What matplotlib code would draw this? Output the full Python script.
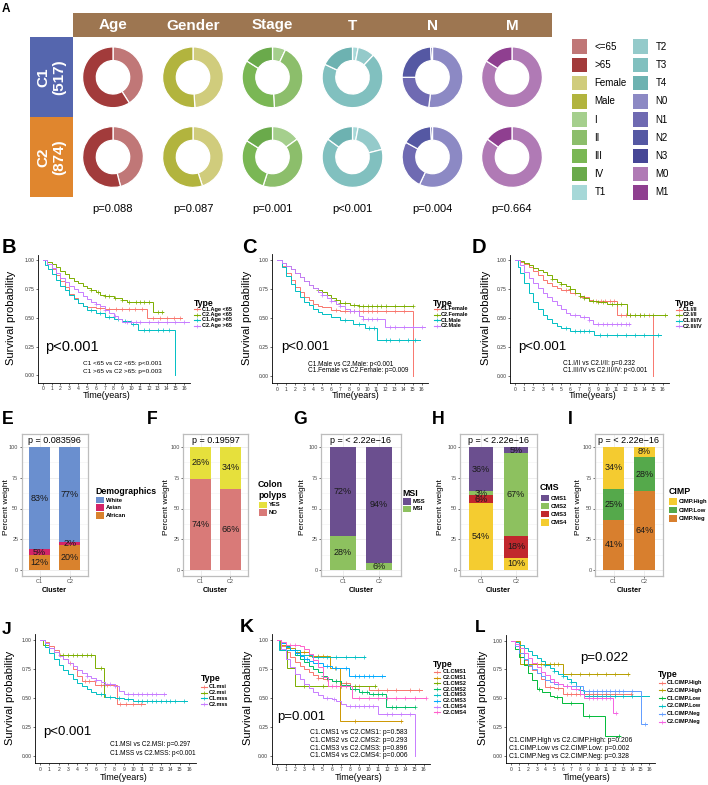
import bisect
import matplotlib
matplotlib.use('Agg')
import matplotlib.pyplot as plt
from matplotlib.patches import Rectangle

plt.rcParams['font.family'] = ['Liberation Sans', 'DejaVu Sans']

W, H = 708, 785

# ---------------- Panel A data ----------------
A_vars = ['Age', 'Gender', 'Stage', 'T', 'N', 'M']
A_pvals = ['p=0.088', 'p=0.087', 'p=0.001', 'p<0.001', 'p=0.004', 'p=0.664']
A_clusters = ['C1\n(517)', 'C2\n(874)']
age_C1 = [41, 59]
age_C2 = [46, 54]
gender_C1 = [49, 51]
gender_C2 = [45, 55]
stage_C1 = [7, 42, 35, 16]
stage_C2 = [15, 40, 29, 16]
T_C1 = [3, 9, 70, 18]
T_C2 = [3, 18, 64, 15]
N_C1 = [52, 23, 24, 1]
N_C2 = [57, 26, 16, 1]
M_C1 = [84, 16]
M_C2 = [85, 15]
age_labels = ['<=65', '>65']
gender_labels = ['Female', 'Male']
stage_labels = ['I', 'II', 'III', 'IV']
T_labels = ['T1', 'T2', 'T3', 'T4']
N_labels = ['N0', 'N1', 'N2', 'N3']
M_labels = ['M0', 'M1']
age_colors = ['#C07777', '#A23B3B']
gender_colors = ['#D0CC7C', '#B2B43E']
stage_colors = ['#A5CF8D', '#8CBE6B', '#7AB754', '#6AAA4B']
T_colors = ['#A6D8D8', '#94CACA', '#81C0BF', '#6DB2B1']
N_colors = ['#8C89C4', '#6F6AB2', '#5558A3', '#464696']
M_colors = ['#B07AB5', '#8F3F90']

# ---------------- KM data (time, survival after step, end, censor times) ----------------
col4 = ['#F8766D', '#7CAE00', '#00BFC4', '#C77CFF']
col8 = ['#F8766D', '#CD9600', '#7CAE00', '#00BE67', '#00BFC4', '#00A9FF', '#C77CFF', '#FF61CC']
col6 = ['#F8766D', '#B79F00', '#00BA38', '#00BFC4', '#619CFF', '#F564E3']

B_labels = ['C1.Age <65', 'C2.Age <65', 'C1.Age >65', 'C2.Age >65']
B_t = [[0, 0.5, 1, 1.5, 2, 2.5, 3, 3.5, 4, 4.5, 5, 6, 7, 11.8],
       [0, 0.5, 1, 1.5, 2, 2.5, 3, 3.5, 4, 4.5, 5, 5.5, 6, 6.5, 7, 8, 9, 9.5, 12.5],
       [0, 0.3, 0.6, 1, 1.5, 2, 2.5, 3, 3.5, 4, 4.5, 5, 6, 7, 8, 9, 10, 10.8, 15],
       [0, 0.5, 1, 1.5, 2, 2.5, 3, 3.5, 4, 4.5, 5, 5.5, 6, 6.5, 7, 7.5, 8, 8.5, 9]]
B_s = [[1, 0.97, 0.92, 0.87, 0.82, 0.77, 0.71, 0.67, 0.63, 0.605, 0.595, 0.585, 0.58, 0.50],
       [1, 0.985, 0.965, 0.94, 0.91, 0.88, 0.85, 0.82, 0.80, 0.78, 0.76, 0.74, 0.72, 0.70, 0.69, 0.67, 0.655, 0.64, 0.55],
       [1, 0.96, 0.92, 0.88, 0.83, 0.78, 0.74, 0.70, 0.66, 0.63, 0.60, 0.57, 0.54, 0.51, 0.49, 0.47, 0.45, 0.39, 0.0],
       [1, 0.97, 0.93, 0.89, 0.85, 0.81, 0.78, 0.75, 0.72, 0.69, 0.66, 0.64, 0.62, 0.60, 0.57, 0.54, 0.52, 0.49, 0.46]]
B_end = [15.7, 13.6, 15, 16.5]
B_cens = [[6.5, 7.5, 8.3, 9, 9.7, 10.4, 11.2, 12.5, 13.2, 14, 14.8, 15.5],
          [5.5, 6.2, 7, 7.5, 8.2, 9, 9.8, 10.5, 11, 11.5, 12, 13, 13.5],
          [5.5, 6.5, 7.5, 8.5, 9.3, 10.2, 11.5, 12, 13, 13.6, 14.3],
          [6, 7, 8.2, 9.5, 10, 10.5, 11, 12, 13, 14, 15, 16]]
B_comps = ['C1 <65 vs C2 <65: p<0.001', 'C1 >65 vs C2 >65: p=0.003']

C_labels = ['C1.Female', 'C2.Female', 'C1.Male', 'C2.Male']
C_t = [[0, 0.5, 1, 1.5, 2, 2.5, 3, 3.5, 4, 4.5, 5, 6, 7, 15],
       [0, 0.5, 1, 1.5, 2, 2.5, 3, 3.5, 4, 4.5, 5, 5.5, 6, 6.5, 7, 8, 9],
       [0, 0.5, 1, 1.5, 2, 2.5, 3, 3.5, 4, 4.5, 5, 6, 7, 8.4, 9.7, 11],
       [0, 0.5, 1, 1.5, 2, 2.5, 3, 3.5, 4, 4.5, 5, 5.5, 6, 6.5, 7, 7.5, 8, 9, 9.5, 11.9]]
C_s = [[1, 0.95, 0.89, 0.83, 0.77, 0.72, 0.68, 0.65, 0.62, 0.60, 0.59, 0.57, 0.56, 0.0],
       [1, 0.975, 0.95, 0.92, 0.885, 0.85, 0.815, 0.785, 0.76, 0.74, 0.72, 0.70, 0.675, 0.65, 0.63, 0.61, 0.60],
       [1, 0.94, 0.86, 0.79, 0.73, 0.68, 0.64, 0.61, 0.58, 0.55, 0.53, 0.51, 0.48, 0.45, 0.41, 0.31],
       [1, 0.975, 0.95, 0.92, 0.885, 0.85, 0.815, 0.785, 0.755, 0.725, 0.70, 0.67, 0.645, 0.62, 0.60, 0.575, 0.555, 0.52, 0.49, 0.42]]
C_end = [15, 15, 15.8, 16.4]
C_cens = [[6.5, 7.5, 8, 8.5, 9, 9.5, 10, 10.5, 11, 12, 13, 14],
          [4.5, 5, 6, 6.5, 7, 7.5, 8.5, 9, 9.5, 10, 10.5, 11, 11.5, 12, 13, 14, 15],
          [7.5, 9, 10.2, 10.7, 12, 12.5, 13.5, 14.5, 15.3],
          [5, 6, 7, 8, 8.5, 9.5, 10, 10.5, 11, 12.5, 13, 14, 15, 16]]
C_comps = ['C1.Male vs C2.Male: p<0.001', 'C1.Female vs C2.Female: p=0.009']

D_labels = ['C1.I/II', 'C2.I/II', 'C1.III/IV', 'C2.III/IV']
D_t = [[0, 0.5, 1, 1.5, 2, 2.5, 3, 3.5, 4, 4.5, 5, 6, 7, 8, 8.5, 11, 15],
       [0, 0.5, 1, 1.5, 2, 2.5, 3, 3.5, 4, 4.5, 5, 5.5, 6, 6.5, 7, 7.5, 8, 9, 10, 12.1],
       [0, 0.3, 0.5, 1, 1.5, 2, 2.5, 3, 3.5, 4, 4.5, 5, 6, 8.6],
       [0, 0.5, 1, 1.5, 2, 2.5, 3, 3.5, 4, 4.5, 5, 5.5, 6, 7, 8, 8.5]]
D_s = [[1, 0.985, 0.965, 0.94, 0.91, 0.87, 0.83, 0.80, 0.78, 0.76, 0.74, 0.72, 0.68, 0.66, 0.65, 0.53, 0.0],
       [1, 0.99, 0.975, 0.955, 0.935, 0.915, 0.895, 0.87, 0.84, 0.815, 0.795, 0.775, 0.75, 0.72, 0.69, 0.67, 0.65, 0.635, 0.625, 0.53],
       [1, 0.94, 0.89, 0.80, 0.72, 0.64, 0.58, 0.53, 0.49, 0.46, 0.43, 0.41, 0.39, 0.35],
       [1, 0.955, 0.90, 0.85, 0.80, 0.76, 0.72, 0.68, 0.645, 0.61, 0.575, 0.545, 0.525, 0.505, 0.485, 0.45]]
D_end = [15, 16.5, 15.8, 12.5]
D_cens = [[5.5, 6.5, 7.5, 8.8, 9.3, 9.8, 10.3, 10.7, 11.5, 12, 12.5, 13.5, 14.5],
          [4, 5, 6, 7, 7.5, 8.5, 9, 9.5, 10.5, 11, 11.5, 12.5, 13, 13.5, 14, 15, 16.2],
          [5.5, 6.5, 7, 7.5, 8, 9.2, 10, 11, 12, 13, 14, 15.5],
          [6.5, 7.5, 8, 9, 9.5, 10, 10.5, 11, 11.5, 12, 12.4]]
D_comps = ['C1.I/II vs C2.I/II: p=0.232', 'C1.III/IV vs C2.III/IV: p<0.001']

J_labels = ['C1.msi', 'C2.msi', 'C1.mss', 'C2.mss']
J_t = [[0, 0.5, 1, 1.5, 2, 2.5, 3, 3.5, 4, 4.5, 5.9, 8.3],
       [0, 0.3, 1, 1.5, 2, 5.9, 6.9],
       [0, 0.5, 1, 1.5, 2, 2.5, 3, 3.5, 4, 4.5, 5, 5.5, 6, 7, 8, 9, 10],
       [0, 0.5, 1, 1.5, 2, 2.5, 3, 3.5, 4, 4.5, 5, 5.5, 6, 6.5, 7, 8, 8.5, 9]]
J_s = [[1, 0.98, 0.95, 0.91, 0.87, 0.84, 0.80, 0.75, 0.69, 0.645, 0.61, 0.45],
       [1, 0.96, 0.93, 0.90, 0.87, 0.76, 0.51],
       [1, 0.94, 0.885, 0.835, 0.785, 0.745, 0.705, 0.665, 0.63, 0.60, 0.575, 0.55, 0.53, 0.51, 0.50, 0.49, 0.47],
       [1, 0.97, 0.935, 0.90, 0.865, 0.835, 0.805, 0.775, 0.745, 0.715, 0.69, 0.67, 0.65, 0.635, 0.62, 0.60, 0.56, 0.53]]
J_end = [11.3, 7.0, 15.8, 13.5]
J_cens = [[2.2, 3.2, 4.8, 5.3, 6.5, 7.2, 8.6, 9.2, 10, 10.8],
          [2.5, 3, 3.5, 4, 4.5, 5, 5.5, 6.5],
          [6.5, 7.5, 8.5, 9.5, 10.5, 11, 11.5, 12, 12.5, 13, 13.5, 14, 14.5, 15.5],
          [5, 6, 7, 7.5, 8, 9.5, 10, 10.5, 11, 11.5, 12, 12.5, 13.3]]
J_comps = ['C1.MSI vs C2.MSI: p=0.297', 'C1.MSS vs C2.MSS: p<0.001']

K_labels = ['C1.CMS1', 'C2.CMS1', 'C1.CMS2', 'C2.CMS2', 'C1.CMS3', 'C2.CMS3', 'C1.CMS4', 'C2.CMS4']
K_t = [[0, 0.5, 1, 1.5, 2, 2.5, 3, 3.5, 4, 4.5, 5, 6, 7, 8, 10],
       [0, 0.5, 1, 2, 3.5, 5.8, 6.9],
       [0, 0.4, 1.1, 2],
       [0, 0.5, 1, 1.5, 2, 2.5, 3, 3.5, 4, 4.5, 5, 5.5, 6, 7, 8, 9, 10, 11.9],
       [0, 0.2, 2.5, 3.8],
       [0, 0.5, 1, 1.5, 2, 2.5, 3, 3.5, 4, 5, 6, 7.9],
       [0, 0.5, 1, 1.5, 2, 2.5, 3, 3.5, 4, 4.5, 5, 6, 6.5, 7, 7.5, 11, 15],
       [0, 0.5, 1, 2.5, 3, 3.5, 4, 4.5, 5, 5.6, 8.2]]
K_s = [[1, 0.95, 0.90, 0.85, 0.81, 0.78, 0.75, 0.72, 0.695, 0.675, 0.66, 0.645, 0.63, 0.60, 0.57],
       [1, 0.96, 0.93, 0.90, 0.86, 0.76, 0.30],
       [1, 0.91, 0.76, 0.60],
       [1, 0.975, 0.945, 0.91, 0.875, 0.84, 0.81, 0.78, 0.75, 0.72, 0.69, 0.665, 0.645, 0.61, 0.58, 0.55, 0.535, 0.42],
       [1, 0.91, 0.875, 0.85],
       [1, 0.97, 0.94, 0.91, 0.885, 0.86, 0.84, 0.82, 0.80, 0.78, 0.76, 0.69],
       [1, 0.92, 0.84, 0.77, 0.71, 0.66, 0.62, 0.585, 0.555, 0.525, 0.50, 0.49, 0.47, 0.45, 0.43, 0.36, 0.0],
       [1, 0.98, 0.96, 0.95, 0.92, 0.88, 0.83, 0.77, 0.68, 0.60, 0.50]]
K_end = [15.8, 13.6, 10.8, 15, 9.6, 11.8, 15, 16.3]
K_cens = [[4.5, 5.5, 6.5, 7.5, 9, 11, 12, 13, 14.5, 15.5],
          [2.5, 3, 4, 4.5, 5, 6.3, 8.5, 13.5],
          [3, 5, 7, 8.5, 10.7],
          [5, 6.5, 7.5, 8.5, 9.3, 9.8, 10.5, 11, 11.5, 12.5, 13, 14, 15],
          [1, 2, 4.5, 5.5, 6.5, 7.5, 8.5, 9.5],
          [2.2, 3.3, 4.5, 5.5, 6.5, 7.5, 8.5, 9, 9.5, 10, 10.5, 11.5],
          [5.5, 6.2, 8, 8.5, 9, 9.5, 10, 10.5, 12, 12.5, 13.5, 14.5],
          [1.5, 2, 6, 6.5, 7, 7.5, 9, 10, 11, 12, 13, 14, 15, 16.2]]
K_comps = ['C1.CMS1 vs C2.CMS1: p=0.583', 'C1.CMS2 vs C2.CMS2: p=0.293',
           'C1.CMS3 vs C2.CMS3: p=0.896', 'C1.CMS4 vs C2.CMS4: p=0.006']

L_labels = ['C1.CIMP.High', 'C2.CIMP.High', 'C1.CIMP.Low', 'C2.CIMP.Low', 'C1.CIMP.Neg', 'C2.CIMP.Neg']
L_t = [[0, 0.5, 1, 1.5, 2, 2.5, 3, 3.5, 4, 5, 6],
       [0, 1.1, 6],
       [0, 0.5, 1, 1.5, 2, 2.5, 3, 3.6, 4.5, 5, 5.9, 8.4, 10.9],
       [0, 0.5, 1, 1.5, 2, 2.5, 3, 3.5, 4, 4.5, 5, 5.5, 6, 6.5, 7, 7.5, 8, 8.5],
       [0, 0.5, 1, 1.5, 2, 2.5, 3, 3.5, 4, 4.5, 5, 6, 8.4, 15],
       [0, 0.5, 1, 1.5, 2, 2.5, 3, 3.5, 4, 4.5, 5, 5.5, 6, 7, 8, 8.5, 11.8]]
L_s = [[1, 0.95, 0.89, 0.83, 0.78, 0.745, 0.715, 0.665, 0.60, 0.585, 0.54],
       [1, 0.80, 0.71],
       [1, 0.93, 0.86, 0.79, 0.72, 0.66, 0.58, 0.55, 0.52, 0.51, 0.46, 0.345, 0.17],
       [1, 0.985, 0.965, 0.94, 0.91, 0.88, 0.85, 0.82, 0.79, 0.76, 0.735, 0.71, 0.69, 0.67, 0.645, 0.61, 0.575, 0.52],
       [1, 0.95, 0.89, 0.84, 0.79, 0.75, 0.72, 0.69, 0.66, 0.64, 0.62, 0.61, 0.56, 0.28],
       [1, 0.97, 0.935, 0.895, 0.85, 0.81, 0.77, 0.73, 0.70, 0.67, 0.645, 0.625, 0.61, 0.58, 0.54, 0.50, 0.37]]
L_end = [14, 13.6, 12.6, 16, 15.7, 12.3]
L_cens = [[4.5, 5.5, 6.5, 7, 7.5, 8, 8.5, 9, 9.5, 10, 11, 12, 13.9],
          [2, 3, 3.5, 4, 4.5, 5, 5.5, 7, 8, 9, 10, 11, 12, 13.5],
          [3.3, 5.4, 7, 9, 12.5],
          [4, 5, 6, 7, 8, 9, 9.5, 10, 10.5, 11, 11.5, 12, 13, 14, 15],
          [5.5, 6.5, 7.5, 9, 9.5, 10, 10.5, 11, 11.5, 12, 12.5, 13, 14, 15.5],
          [5, 6.5, 7.5, 9, 9.5, 10, 10.5, 11, 11.5, 12.2]]
L_comps = ['C1.CIMP.High vs C2.CIMP.High: p=0.206', 'C1.CIMP.Low vs C2.CIMP.Low: p=0.002',
           'C1.CIMP.Neg vs C2.CIMP.Neg: p=0.328']

# ---------------- Bar chart data (legend order, top to bottom of stack) ----------------
E_groups = ['White', 'Asian', 'African']
E_C1 = [83.0, 4.8, 12.2]
E_C2 = [77.3, 2.3, 20.4]
E_colors = ['#6A8FCF', '#D42468', '#D9822D']
F_groups = ['YES', 'NO']
F_C1 = [26, 74]
F_C2 = [34, 66]
F_colors = ['#E6E03C', '#D97A78']
G_groups = ['MSS', 'MSI']
G_C1 = [72, 28]
G_C2 = [94, 6]
G_colors = ['#6B4F8F', '#8DC15F']
H_groups = ['CMS1', 'CMS2', 'CMS3', 'CMS4']
H_C1 = [36.1, 3.2, 6.3, 54.4]
H_C2 = [5, 67, 18, 10]
H_colors = ['#6B4F8F', '#8DC15F', '#C1272D', '#F4CC30']
I_groups = ['CIMP.High', 'CIMP.Low', 'CIMP.Neg']
I_C1 = [34, 25, 41]
I_C2 = [8, 28, 64]
I_colors = ['#F4CB30', '#55A94B', '#D87F2E']
bar_clusters = ['C1', 'C2']

# ================= figure =================
fig = plt.figure(figsize=(W / 100, H / 100), dpi=100)


def rect_px(x0, y0, x1, y1):
    return [x0 / W, 1 - y1 / H, (x1 - x0) / W, (y1 - y0) / H]


ov = fig.add_axes([0, 0, 1, 1], zorder=10)
ov.set_xlim(0, W)
ov.set_ylim(H, 0)
ov.axis('off')

# ---- Panel A ----
ov.text(2, 9, 'A', fontsize=8.5, fontweight='bold', va='center', ha='left')
ov.add_patch(Rectangle((73, 13), 479, 24, color='#9D7651', lw=0))
ov.add_patch(Rectangle((30, 37), 43, 80, color='#5566AE', lw=0))
ov.add_patch(Rectangle((30, 117), 43, 80, color='#E0862E', lw=0))
for cy, lab in zip([77, 157], A_clusters):
    ov.text(51.5, cy, lab, rotation=90, color='white', fontsize=11, fontweight='bold',
            ha='center', va='center', linespacing=1.15)
donut_x = [113, 193, 272.5, 352.5, 432.5, 512]
donut_y = [77.3, 157]
R = 31
donut_sets = [(age_C1, age_C2, age_colors), (gender_C1, gender_C2, gender_colors),
              (stage_C1, stage_C2, stage_colors), (T_C1, T_C2, T_colors),
              (N_C1, N_C2, N_colors), (M_C1, M_C2, M_colors)]
for j, (v1, v2, cols) in enumerate(donut_sets):
    ov.text(donut_x[j], 25.5, A_vars[j], color='white', fontsize=11, fontweight='bold',
            ha='center', va='center')
    ov.text(donut_x[j], 209.5, A_pvals[j], fontsize=8, ha='center', va='center')
    for cy, vals in zip(donut_y, [v1, v2]):
        dax = fig.add_axes(rect_px(donut_x[j] - R, cy - R, donut_x[j] + R, cy + R))
        dax.pie(vals, colors=cols, startangle=90, counterclock=False, radius=1,
                wedgeprops=dict(width=0.45, edgecolor='white', linewidth=0.9))
        dax.set_xlim(-1.02, 1.02)
        dax.set_ylim(-1.02, 1.02)
        dax.set_aspect('equal')
        dax.axis('off')

leg_labels = age_labels + gender_labels + stage_labels + T_labels + N_labels + M_labels
leg_colors = age_colors + gender_colors + stage_colors + T_colors + N_colors + M_colors
for i, (lab, col) in enumerate(zip(leg_labels, leg_colors)):
    c, r = divmod(i, 9)
    if i == 8:
        c, r = 0, 8
    elif i > 8:
        c, r = 1, i - 9
    sx = 572 if c == 0 else 633
    sy = 39.3 + r * 18.2
    ov.add_patch(Rectangle((sx, sy), 15, 14.7, color=col, lw=0))
    ov.text(sx + 22.5, sy + 7.5, lab, fontsize=7, ha='left', va='center')


# ---- KM helpers ----
def surv_at(t, s, x):
    i = bisect.bisect_right(t, x) - 1
    return s[i]


def km_panel(x0p, x16p, y1p, y0p, times, survs, ends, cens, colors):
    xl = (-0.55, 16.7)
    yl = (-0.065, 1.05)
    pxx = (x16p - x0p) / 16.0
    pxy = (y0p - y1p)
    left = x0p + xl[0] * pxx
    right = x0p + xl[1] * pxx
    top = y0p - yl[1] * pxy
    bottom = y0p - yl[0] * pxy
    ax = fig.add_axes(rect_px(left, top, right, bottom))
    ax.set_facecolor('none')
    ax.set_xlim(xl)
    ax.set_ylim(yl)
    for t, s, e, c, col in zip(times, survs, ends, cens, colors):
        xs = list(t) + [e]
        ys = list(s) + [s[-1]]
        ax.plot(xs, ys, drawstyle='steps-post', color=col, lw=0.7, solid_joinstyle='miter')
        cy = [surv_at(t, s, ci) for ci in c]
        ax.plot(c, cy, ls='none', marker='+', ms=2.6, mew=0.5, color=col)
    for sp in ['top', 'right']:
        ax.spines[sp].set_visible(False)
    for sp in ['left', 'bottom']:
        ax.spines[sp].set_linewidth(0.6)
    ax.set_xticks(range(17))
    ax.set_yticks([0, 0.25, 0.5, 0.75, 1.0])
    ax.set_yticklabels(['0.00', '0.25', '0.50', '0.75', '1.00'])
    ax.tick_params(labelsize=3.6, length=1.5, width=0.5, pad=1, colors='#333333')
    return ax


def km_legend(x, ybase, ys, labels, colors, tx):
    ov.text(x, ybase, 'Type', fontsize=6.2, fontweight='bold', va='baseline', ha='left')
    for y, lab, col in zip(ys, labels, colors):
        ov.plot([x + 0.5, x + 6.5], [y, y], color=col, lw=0.8)
        ov.plot([x + 3.5], [y], marker='+', color=col, ms=2.5, mew=0.5)
        ov.text(tx, y, lab, fontsize=4, fontweight='bold', va='center', ha='left')


def km_texts(px, py, ptxt, pfs, cx, cys, comps, cfs, ylx, yly, xlx, xly):
    ov.text(px, py, ptxt, fontsize=pfs, ha='left', va='center')
    for y, ctext in zip(cys, comps):
        ov.text(cx, y, ctext, fontsize=cfs, ha='left', va='center')
    ov.text(ylx, yly, 'Survival probability', rotation=90, fontsize=8, ha='center', va='center')
    ov.text(xlx, xly, 'Time(years)', fontsize=6.5, ha='center', va='center')


# B
km_panel(42.7, 184.3, 260.3, 375.3, B_t, B_s, B_end, B_cens, col4)
km_legend(193.5, 306, [309, 314.5, 320, 325.7], B_labels, col4, 201.5)
km_texts(45, 346.7, 'p<0.001', 10.5, 83.3, [364, 371], B_comps, 4.6, 10.7, 318, 107, 395)
ov.text(2, 247.5, 'B', fontsize=14.5, fontweight='bold', va='center', ha='left')
# C
km_panel(277.3, 421.7, 260, 375.7, C_t, C_s, C_end, C_cens, col4)
km_legend(433, 306, [309, 314.5, 320, 325.7], C_labels, col4, 440.5)
km_texts(280.7, 346.7, 'p<0.001', 9.5, 308.3, [364, 371], C_comps, 4.7, 247.3, 318, 356, 395)
ov.text(241.7, 247.5, 'C', fontsize=14.5, fontweight='bold', va='center', ha='left')
# D
km_panel(515, 662.7, 260.3, 375.7, D_t, D_s, D_end, D_cens, col4)
km_legend(675, 306.5, [309.5, 315, 320.5, 326], D_labels, col4, 683)
km_texts(518.3, 346.7, 'p<0.001', 9.5, 562.7, [363.5, 371], D_comps, 4.7, 486, 318, 593, 395)
ov.text(471.7, 247.5, 'D', fontsize=14.5, fontweight='bold', va='center', ha='left')
# J
km_panel(40, 189, 640, 755.7, J_t, J_s, J_end, J_cens, col4)
km_legend(200.7, 681, [686.7, 692.7, 698.3, 704.3], J_labels, col4, 208.7)
km_texts(43.3, 731.7, 'p<0.001', 9.5, 110, [744, 753.3], J_comps, 4.7, 10, 698, 124, 777)
ov.text(2, 629.2, 'J', fontsize=12.5, fontweight='bold', va='center', ha='left')
# K
km_panel(276.7, 423.7, 640, 756, K_t, K_s, K_end, K_cens, col8)
km_legend(433.3, 667, [671.7, 677.6, 683.4, 689.2, 695, 700.8, 706.6, 712.4], K_labels, col8, 442.5)
km_texts(276.7, 716.7, 'p=0.001', 9.5, 310, [732.7, 740.7, 748.3, 755.7], K_comps, 4.9, 248, 698, 358.3, 777)
ov.text(240, 627.8, 'K', fontsize=14, fontweight='bold', va='center', ha='left')
# L
km_panel(510.7, 649.3, 640.7, 755.7, L_t, L_s, L_end, L_cens, col6)
km_legend(658, 677, [682.7, 690.3, 698, 705.7, 713.7, 721.5], L_labels, col6, 666.5)
km_texts(580, 658.3, 'p=0.022', 9.5, 509.3, [740, 748.3, 756.7], L_comps, 4.9, 483, 698, 587, 777)
ov.text(475, 627.5, 'L', fontsize=12.5, fontweight='bold', va='center', ha='left')


# ---- bar helpers ----
def bar_panel(x0, x1, c1, c2, colors, ptxt, ylx, letter, letx):
    y0, y1, y100, yzero = 434, 576, 447, 570
    ppu = (yzero - y100) / 100.0
    ytop = (yzero - y0) / ppu
    ybot = (yzero - y1) / ppu
    ax = fig.add_axes(rect_px(x0, y0, x1, y1))
    ax.set_xlim(0.4, 2.6)
    ax.set_ylim(ybot, ytop)
    for xi, vals in zip([1, 2], [c1, c2]):
        bottom = 0.0
        for v, col in zip(reversed(vals), reversed(colors)):
            ax.bar(xi, v, 0.7, bottom=bottom, color=col, zorder=3, lw=0)
            ax.text(xi, bottom + v / 2.0, f'{round(v)}%', ha='center', va='center',
                    fontsize=6.5, color='#1a1a1a', zorder=4)
            bottom += v
    ax.text(1.5, 105.6, ptxt, ha='center', va='center', fontsize=6.5, zorder=5)
    ax.set_xticks([1, 2])
    ax.set_xticklabels(bar_clusters)
    ax.set_yticks([0, 25, 50, 75, 100])
    ax.set_yticks([12.5, 37.5, 62.5, 87.5], minor=True)
    ax.set_axisbelow(True)
    ax.grid(True, which='major', color='#EBEBEB', lw=0.6)
    ax.grid(True, which='minor', axis='y', color='#F2F2F2', lw=0.4)
    ax.tick_params(which='major', labelsize=4, length=1.5, width=0.5, pad=1,
                   colors='#333333', labelcolor='#4D4D4D')
    ax.tick_params(which='minor', length=0)
    for sp in ax.spines.values():
        sp.set_color('#BDBDBD')
        sp.set_linewidth(0.9)
    ov.text(ylx, 507.5, 'Percent weight', rotation=90, fontsize=6, ha='center', va='center')
    ov.text((x0 + x1) / 2.0, 590, 'Cluster', fontsize=5.2, fontweight='bold', ha='center', va='center')
    ov.text(letx, 419.7, letter, fontsize=12.7, fontweight='bold', ha='left', va='center')


def bar_legend(x, titles, tys, iys, labels, colors):
    for t, y in zip(titles, tys):
        ov.text(x, y, t, fontsize=6.3, fontweight='bold', va='center', ha='left')
    for y, lab, col in zip(iys, labels, colors):
        ov.add_patch(Rectangle((x + 0.8, y - 3.3), 8, 6.6, color=col, lw=0))
        ov.text(x + 10.5, y, lab, fontsize=4.2, fontweight='bold', va='center', ha='left')


bar_panel(21.7, 87.7, E_C1, E_C2, E_colors, 'p = 0.083596', 6.7, 'E', 2)
bar_legend(95, ['Demographics'], [491.7], [500, 507.7, 515.4], E_groups, E_colors)
bar_panel(183, 248, F_C1, F_C2, F_colors, 'p = 0.19597', 166.7, 'F', 146.7)
bar_legend(258, ['Colon', 'polyps'], [484.3, 495], [505, 512.7], F_groups, F_colors)
bar_panel(321, 401, G_C1, G_C2, G_colors, 'p = < 2.22e\u221216', 303, 'G', 293.3)
bar_legend(402.3, ['MSI'], [493.3], [501.3, 509], G_groups, G_colors)
bar_panel(460, 537, H_C1, H_C2, H_colors, 'p = < 2.22e\u221216', 441, 'H', 431.7)
bar_legend(540, ['CMS'], [487.7], [498, 506, 514, 522.3], H_groups, H_colors)
bar_panel(595, 663, I_C1, I_C2, I_colors, 'p = < 2.22e\u221216', 579, 'I', 568.3)
bar_legend(668.3, ['CIMP'], [491.7], [501.7, 510, 518.3], I_groups, I_colors)

fig.savefig('out.png', dpi=100)
